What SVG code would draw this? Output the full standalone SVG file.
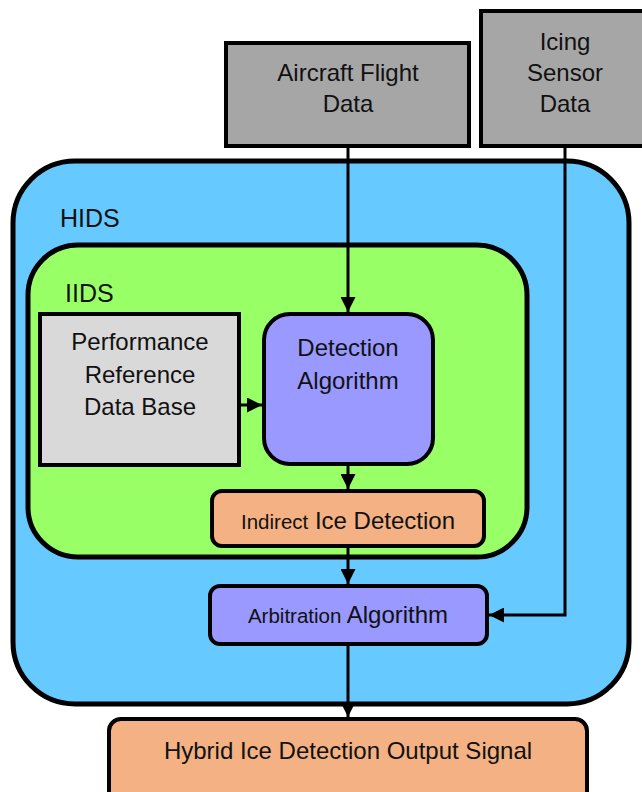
<svg xmlns="http://www.w3.org/2000/svg" width="642" height="792" viewBox="0 0 642 792">
<defs>
<style>
.b{stroke:#000;stroke-width:4}
.t{font-family:"Liberation Sans",Arial,sans-serif;font-size:24px;fill:#111;text-anchor:middle}
.s{font-size:20.5px}
.c{stroke:#000;stroke-width:3;fill:none}
</style>
<marker id="ah" viewBox="0 0 10 10" refX="10" refY="5" markerWidth="5.3" markerHeight="5" markerUnits="strokeWidth" orient="auto">
<path d="M0,0 L10,5 L0,10 z" fill="#000"/>
</marker>
</defs>
<rect width="642" height="792" fill="#fff"/>
<g id="hids">
<rect x="13" y="161" width="616" height="543" rx="62" fill="#66c9ff" stroke="#000" stroke-width="5"/>
<text class="t" x="60" y="227" style="text-anchor:start;font-size:25px">HIDS</text>
</g>
<g id="iids">
<rect x="28" y="245" width="499" height="312" rx="50" fill="#99ff66" stroke="#000" stroke-width="5"/>
<text class="t" x="65" y="302" style="text-anchor:start;font-size:25px">IIDS</text>
</g>
<g id="aircraft">
<rect class="b" x="226" y="43" width="243" height="103" fill="#a6a6a6"/>
<text class="t" x="348" y="81">Aircraft Flight</text>
<text class="t" x="348" y="112">Data</text>
</g>
<g id="icing">
<rect class="b" x="481" y="11" width="170" height="135" fill="#a6a6a6"/>
<text class="t" x="565" y="50">Icing</text>
<text class="t" x="565" y="81">Sensor</text>
<text class="t" x="565" y="112">Data</text>
</g>
<g id="prdb">
<rect class="b" x="40" y="314" width="199" height="151" fill="#d9d9d9"/>
<text class="t" x="140" y="350">Performance</text>
<text class="t" x="140" y="383">Reference</text>
<text class="t" x="140" y="415">Data Base</text>
</g>
<g id="detection">
<rect class="b" x="264" y="314" width="169" height="150" rx="26" fill="#9999ff"/>
<text class="t" x="348" y="356">Detection</text>
<text class="t" x="348" y="389">Algorithm</text>
</g>
<g id="indirect">
<rect class="b" x="212" y="491" width="272" height="55" rx="10" fill="#f4b183"/>
<text class="t" x="348" y="529"><tspan class="s">Indirect</tspan> Ice Detection</text>
</g>
<g id="arbitration">
<rect class="b" x="210" y="586" width="277" height="58" rx="10" fill="#9999ff"/>
<text class="t" x="348" y="623"><tspan class="s">Arbitration</tspan> Algorithm</text>
</g>
<g id="output">
<rect class="b" x="109" y="719" width="478" height="90" rx="12" fill="#f4b183"/>
<text class="t" x="348" y="759">Hybrid Ice Detection Output Signal</text>
</g>
<g id="connectors">
<line class="c" x1="348" y1="147" x2="348" y2="312" marker-end="url(#ah)"/>
<line class="c" x1="241" y1="405" x2="262" y2="405" marker-end="url(#ah)"/>
<line class="c" x1="348" y1="466" x2="348" y2="489" marker-end="url(#ah)"/>
<line class="c" x1="348" y1="548" x2="348" y2="584" marker-end="url(#ah)"/>
<line class="c" x1="348" y1="646" x2="348" y2="717" marker-end="url(#ah)"/>
<path class="c" d="M565,147 V615 H489" marker-end="url(#ah)"/>
</g>
</svg>
